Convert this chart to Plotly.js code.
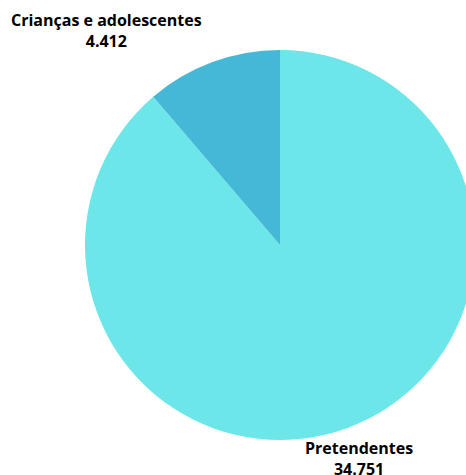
<!DOCTYPE html>
<html><head><meta charset="utf-8">
<script src="https://cdn.plot.ly/plotly-3.0.1.min.js"></script>
<style>html,body{margin:0;padding:0;overflow:hidden;background:#fff}</style>
</head><body>
<div id="chart"></div>
<script>
const categories = ["Pretendentes", "Crianças e adolescentes"];
const values = [34751, 4412];
const colors = ["#6ce6e9", "#44b8d6"];
const labelPos = [[359, 458], [106, 31]];

const W = 500, H = 475;
const fmt = v => v.toLocaleString("pt-BR");
const annotations = categories.map((c, i) => ({
  text: "<b>" + c + "</b><br><b>" + fmt(values[i]) + "</b>",
  xref: "paper", yref: "paper",
  x: labelPos[i][0] / W, y: 1 - labelPos[i][1] / H,
  xanchor: "center", yanchor: "middle",
  showarrow: false,
  font: {family: "Open Sans", size: 16, color: "#000"}
}));

Plotly.newPlot("chart", [{
  type: "pie",
  labels: categories,
  values: values,
  marker: {colors: colors, line: {width: 0}},
  sort: false,
  direction: "clockwise",
  rotation: 0,
  textinfo: "none",
  hoverinfo: "none",
  domain: {x: [85 / W, 475 / W], y: [35 / H, 425 / H]}
}], {
  width: W, height: H,
  margin: {l: 0, r: 0, t: 0, b: 0},
  showlegend: false,
  paper_bgcolor: "#fff",
  annotations: annotations
}, {displayModeBar: false, staticPlot: true});
</script>
</body></html>
